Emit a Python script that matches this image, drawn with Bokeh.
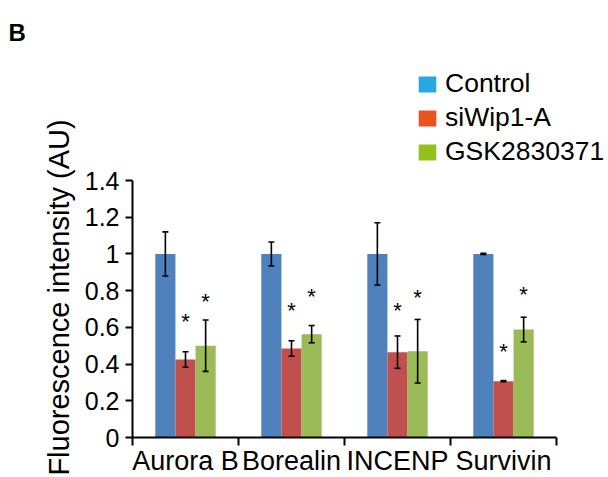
import math
from bokeh.plotting import figure
from bokeh.models import (Range1d, FixedTicker, Whisker, TeeHead, ColumnDataSource,
                          Legend, LegendItem, Label)
from bokeh.embed import file_html
from bokeh.resources import INLINE
from bokeh.core.properties import value

# ---- data ----
categories = ["Aurora B", "Borealin", "INCENP", "Survivin"]
series = ["Control", "siWip1-A", "GSK2830371"]
control = [1.0, 1.0, 1.0, 1.0]
control_err = [0.12, 0.065, 0.17, 0.003]
siwip1 = [0.425, 0.485, 0.465, 0.307]
siwip1_err = [0.042, 0.042, 0.088, 0.003]
gsk = [0.50, 0.563, 0.47, 0.588]
gsk_err = [0.14, 0.047, 0.173, 0.067]
# significance asterisks (y position of marker) for siWip1-A and GSK2830371
siwip1_star = [0.63, 0.69, 0.69, 0.47]
gsk_star = [0.74, 0.77, 0.76, 0.78]
y_ticks = [0, 0.2, 0.4, 0.6, 0.8, 1, 1.2, 1.4]
y_tick_labels = ["0", "0.2", "0.4", "0.6", "0.8", "1", "1.2", "1.4"]

bar_colors = ["#4F81BD", "#C0504D", "#9BBB59"]
legend_colors = ["#29A8E0", "#E8541C", "#93C01F"]
FONT = "Liberation Sans"

values = [control, siwip1, gsk]
errors = [control_err, siwip1_err, gsk_err]
stars = [None, siwip1_star, gsk_star]

n = len(categories)
bar_w = 0.19
centers = [k + 0.5 for k in range(n)]

# ---- layout: frame fills the canvas, axes are placed inside it ----
W, H = 608, 477
ax_left_px, ax_bottom_px = 132, 437          # pixel position of the axes origin
px_per_cat = 106.0                            # pixels per category
px_per_unit = (437 - 180) / 1.4               # pixels per y unit
x0 = -ax_left_px / px_per_cat
y0 = -(H - ax_bottom_px) / px_per_unit

p = figure(width=W, height=H,
           x_range=Range1d(x0, x0 + W / px_per_cat),
           y_range=Range1d(y0, y0 + H / px_per_unit),
           output_backend="svg", toolbar_location=None, min_border=0)
p.outline_line_color = None
p.xgrid.visible = False
p.ygrid.visible = False
p.background_fill_color = "white"
p.border_fill_color = "white"

for i, s in enumerate(series):
    xs = [c + (i - 1) * bar_w for c in centers]
    vals = values[i]
    errs = errors[i]
    src = ColumnDataSource(dict(x=xs, top=vals,
                                upper=[v + e for v, e in zip(vals, errs)],
                                lower=[v - e for v, e in zip(vals, errs)]))
    p.vbar(x="x", top="top", bottom=0, width=bar_w, source=src,
           fill_color=bar_colors[i], line_color=None)
    w = Whisker(base="x", upper="upper", lower="lower", source=src, level="annotation",
                line_color="black", line_width=1.6,
                upper_head=TeeHead(size=6, line_width=1.6, line_color="black"),
                lower_head=TeeHead(size=6, line_width=1.6, line_color="black"))
    p.add_layout(w)
    if stars[i] is not None:
        p.text(x=xs, y=stars[i], text=["*"] * n, text_font=value(FONT),
               text_font_size="22px", text_align="center", text_baseline="middle",
               text_color="black")

# ---- axes ----
yax = p.yaxis[0]
yax.fixed_location = 0
yax.bounds = (0, 1.4)
yax.ticker = FixedTicker(ticks=y_ticks, minor_ticks=[])
yax.major_label_overrides = {t: l for t, l in zip(y_ticks, y_tick_labels)}
yax.axis_line_width = 2
yax.axis_line_color = "black"
yax.major_tick_line_width = 2
yax.major_tick_line_color = "black"
yax.major_tick_out = 7
yax.major_tick_in = 0
yax.minor_tick_out = 0
yax.major_label_text_font = FONT
yax.major_label_text_font_size = "25px"
yax.major_label_text_color = "black"
yax.major_label_standoff = 6

xax = p.xaxis[0]
xax.fixed_location = 0
xax.bounds = (0, n)
xax.ticker = FixedTicker(ticks=centers, minor_ticks=list(range(n + 1)))
xax.major_label_overrides = {c: l for c, l in zip(centers, categories)}
xax.axis_line_width = 2
xax.axis_line_color = "black"
xax.major_tick_out = 0
xax.major_tick_in = 0
xax.minor_tick_out = 8
xax.minor_tick_in = 0
xax.minor_tick_line_width = 2
xax.minor_tick_line_color = "black"
xax.major_label_text_font = FONT
xax.major_label_text_font_size = "27px"
xax.major_label_text_color = "black"
xax.major_label_standoff = 0

# y-axis title
p.add_layout(Label(x=58, y=H - 297, x_units="screen", y_units="screen",
                   text="Fluorescence intensity (AU)", angle=math.pi / 2,
                   text_font=FONT, text_font_size="29px", text_align="center",
                   text_baseline="middle", text_color="black"))

# ---- legend (swatch colours differ from bar colours in the original) ----
items = []
for i, s in enumerate(series):
    r = p.vbar(x=[float("nan")], top=[float("nan")], width=0.1,
               fill_color=legend_colors[i], line_color=None)
    items.append(LegendItem(label=s, renderers=[r]))
legend = Legend(items=items, location=(416, H - 167), glyph_width=22, glyph_height=20,
                label_text_font=FONT, label_text_font_size="26.5px", label_text_color="black",
                label_height=30, label_standoff=7, spacing=3, padding=0, margin=0,
                border_line_color=None, background_fill_alpha=0)
p.add_layout(legend)

# ---- panel letter ----
p.add_layout(Label(x=8, y=H - 32, x_units="screen", y_units="screen", text="B",
                   text_font=FONT, text_font_style="bold", text_font_size="24px",
                   text_baseline="alphabetic", text_color="black"))

open("out.html", "w").write(file_html(p, INLINE))
